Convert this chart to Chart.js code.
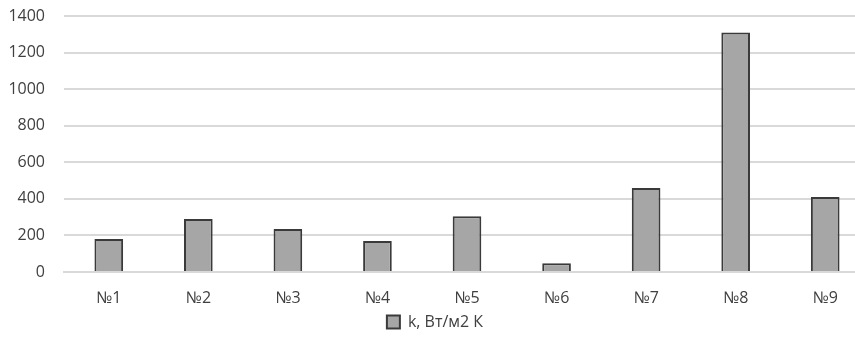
<!DOCTYPE html>
<html><head><meta charset="utf-8">
<script src="https://cdn.jsdelivr.net/npm/chart.js@4"></script>
<style>html,body{margin:0;padding:0;overflow:hidden;background:#fff}#w{width:870px;height:338px}</style>
</head><body><div id="w"><canvas id="c" width="870" height="338"></canvas></div>
<script>
const categories = ["№1","№2","№3","№4","№5","№6","№7","№8","№9"];
const kValues = [180, 290, 235, 170, 305, 48, 460, 1310, 410];
const seriesLabel = "k, Вт/м2 К";
const yTicks = [0,200,400,600,800,1000,1200,1400];

const font = {family: "Open Sans", size: 16};
const chart = new Chart(document.getElementById('c'), {
  type: 'bar',
  data: {labels: categories, datasets: [{label: seriesLabel, data: kValues,
    backgroundColor: '#a6a6a6', borderColor: '#3a3a3a', borderWidth: 2,
    categoryPercentage: 1, barPercentage: 0.32}]},
  options: {
    responsive: false, animation: false,
    layout: {padding: {top: 16, right: 0, left: 0, bottom: -2}},
    plugins: {
      tooltip: {enabled: false},
      legend: {position: 'bottom', labels: {color: '#404040', font: font, boxWidth: 13, boxHeight: 13, padding: 0}}
    },
    scales: {
      x: {grid: {display: false, drawTicks: false}, border: {color: '#d9d9d9', width: 2},
          afterFit: s => { s.height = 42; },
          ticks: {color: '#404040', font: font, padding: 17}},
      y: {min: 0, max: 1400,
          afterFit: s => { s.width = 64; s.paddingTop = 0; s.paddingBottom = 0; },
          afterBuildTicks: s => { s.ticks = yTicks.map(v => ({value: v})); },
          grid: {color: '#d9d9d9', lineWidth: 2, drawTicks: false}, border: {display: false},
          ticks: {color: '#404040', font: font, padding: 19, callback: v => String(v)}}
    }
  }
});
</script></body></html>
